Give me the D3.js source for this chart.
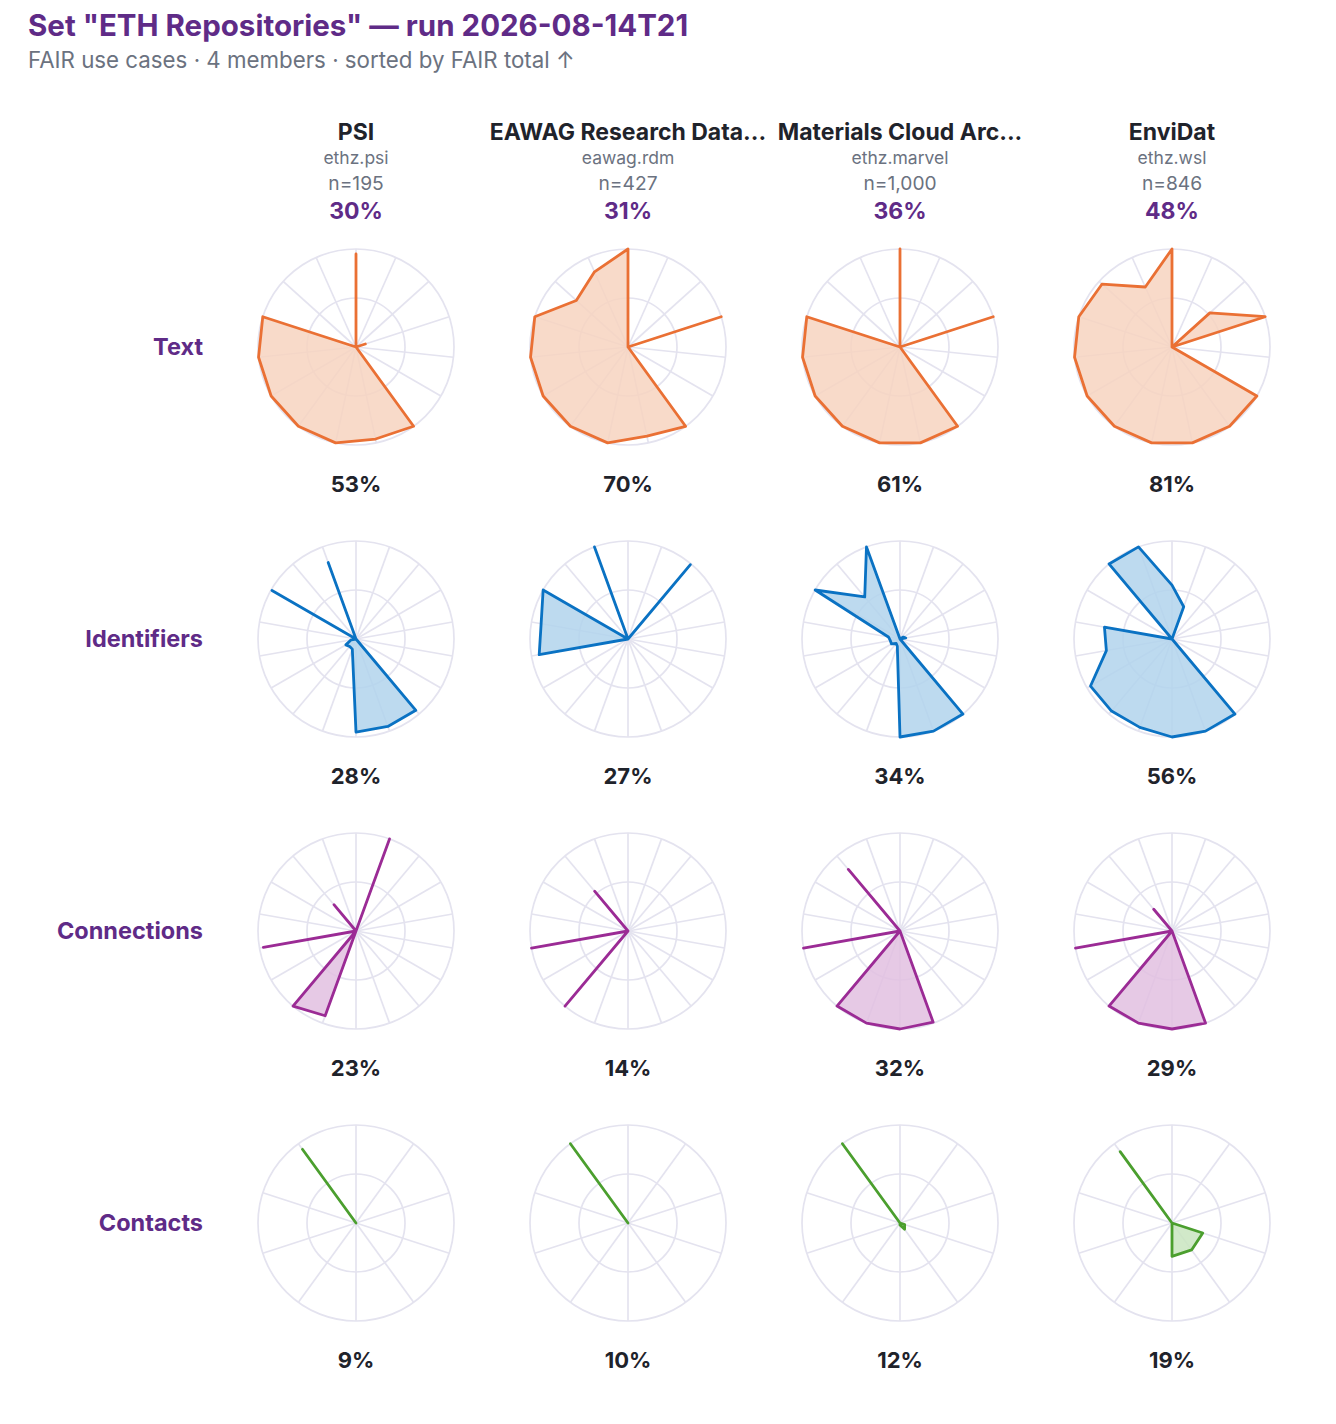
<!DOCTYPE html>
<html>
<head>
<meta charset="utf-8">
<script src="https://cdn.jsdelivr.net/npm/d3@7"></script>
<style>
  html, body { margin: 0; padding: 0; background: #ffffff; }
  svg { display: block; font-family: Inter, "Noto Sans", "DejaVu Sans", sans-serif; }
</style>
</head>
<body>
<div id="chart"></div>
<script>
// ---------- data ----------
const titleText = 'Set "ETH Repositories" — run 2026-08-14T21';
const subtitleText = "FAIR use cases · 4 members · sorted by FAIR total ↑";

const categories = ["Text", "Identifiers", "Connections", "Contacts"];
const members = ["PSI", "EAWAG Research Data...", "Materials Cloud Arc...", "EnviDat"];
const memberIds = ["ethz.psi", "eawag.rdm", "ethz.marvel", "ethz.wsl"];
const memberCounts = [195, 427, 1000, 846];
const memberTotals = [30, 31, 36, 48];

// score per category (rows) per member (columns), percent
const textScores = [53, 70, 61, 81];
const identifierScores = [28, 27, 34, 56];
const connectionScores = [23, 14, 32, 29];
const contactScores = [9, 10, 12, 19];

// per-use-case fractions (spokes clockwise from top), one array per member
const textValues = [
  [0.95, 0, 0, 0.1, 0, 0, 1, 0.96, 1, 1, 1, 1, 1, 0, 0],
  [1, 0, 0, 1, 0, 0, 1, 0.93, 1, 1, 1, 1, 1, 0.71, 0.84],
  [1, 0, 0, 1, 0, 0, 1, 1, 1, 1, 1, 1, 1, 0, 0],
  [1, 0, 0.52, 1, 0, 1, 1, 1, 1, 1, 1, 1, 1, 0.96, 0.67]
];
const identifierValues = [
  [0, 0, 0, 0, 0, 0, 0, 0.95, 0.95, 0.95, 0.11, 0.1, 0.12, 0.05, 0, 0.99, 0, 0.83],
  [0, 0, 0.99, 0, 0, 0, 0, 0, 0, 0, 0, 0, 0, 0.92, 0.9, 1, 0, 1],
  [0, 0, 0, 0.04, 0.06, 0, 0, 1, 1, 1, 0.08, 0.06, 0.1, 0.1, 0.12, 1, 0.56, 1],
  [0.55, 0.35, 0, 0, 0, 0, 0, 1, 1, 1, 0.96, 0.96, 0.96, 0.68, 0.7, 0, 1, 1]
];
const connectionValues = [
  [0, 1, 0, 0, 0, 0, 0, 0, 0, 0, 0.92, 1, 0, 0.96, 0, 0, 0.35, 0],
  [0, 0, 0, 0, 0, 0, 0, 0, 0, 0, 0, 1, 0, 1, 0, 0, 0.53, 0],
  [0, 0, 0, 0, 0, 0, 0, 0, 0.99, 1, 1, 1, 0, 1, 0, 0, 0.82, 0],
  [0, 0, 0, 0, 0, 0, 0, 0, 1, 1, 1, 1, 0, 1, 0, 0, 0.29, 0]
];
const contactValues = [
  [0, 0, 0, 0, 0, 0, 0, 0, 0, 0.93],
  [0, 0, 0, 0, 0, 0, 0, 0, 0, 1],
  [0, 0, 0, 0.05, 0.08, 0.02, 0, 0, 0, 1],
  [0, 0, 0, 0.33, 0.34, 0.34, 0, 0, 0, 0.9]
];

const categoryValues = [textValues, identifierValues, connectionValues, contactValues];
const categoryScores = [textScores, identifierScores, connectionScores, contactScores];
const categoryStroke = ["#ea7034", "#0a72c3", "#9b2b95", "#4b9f2e"];
const categoryFill = ["#f7d4c0", "#b1d3ec", "#e2c0e0", "#c9e5c0"];

// ---------- layout ----------
const W = 1336, H = 1424;
const colX = d3.scalePoint().domain(d3.range(members.length)).range([356, 1172]);
const rowY = d3.scalePoint().domain(d3.range(categories.length)).range([347, 1223]);
const rScale = d3.scaleLinear().domain([0, 1]).range([0, 98]);

const purple = "#5f2b87";
const dark = "#1f232b";
const gray = "#6b7280";
const gridColor = "#e4e3ef";

const svg = d3.select("#chart").append("svg")
  .attr("width", W).attr("height", H).attr("viewBox", [0, 0, W, H]);

svg.append("text")
  .attr("x", 28).attr("y", 36)
  .attr("fill", purple).attr("font-size", 29.5).attr("font-weight", 700)
  .text(titleText);

svg.append("text")
  .attr("x", 28).attr("y", 68)
  .attr("fill", gray).attr("font-size", 22.3)
  .text(subtitleText);

// column headers
const header = svg.append("g").selectAll("g").data(members).join("g")
  .attr("transform", (d, i) => `translate(${colX(i)},0)`)
  .attr("text-anchor", "middle");
header.append("text").attr("y", 139.5).attr("font-size", 23).attr("font-weight", 700)
  .attr("fill", dark).text(d => d);
header.append("text").attr("y", 164).attr("font-size", 17.5)
  .attr("fill", gray).text((d, i) => memberIds[i]);
header.append("text").attr("y", 190).attr("font-size", 19.2)
  .attr("fill", gray).text((d, i) => "n=" + d3.format(",")(memberCounts[i]));
header.append("text").attr("y", 218.5).attr("font-size", 23).attr("font-weight", 700)
  .attr("fill", purple).text((d, i) => memberTotals[i] + "%");

// row labels
svg.append("g").selectAll("text").data(categories).join("text")
  .attr("x", 203).attr("y", (d, i) => rowY(i) + 7.8)
  .attr("text-anchor", "end").attr("font-size", 23.5).attr("font-weight", 700)
  .attr("fill", purple).text(d => d);

// radar cells
categories.forEach((cat, ci) => {
  const vals = categoryValues[ci];
  const nSpokes = vals[0].length;
  const angle = d3.scaleLinear().domain([0, nSpokes]).range([0, 2 * Math.PI]);
  members.forEach((m, mi) => {
    const g = svg.append("g")
      .attr("transform", `translate(${colX(mi)},${rowY(ci)})`);
    // grid circles
    g.selectAll("circle.grid").data([0.5, 1]).join("circle")
      .attr("class", "grid")
      .attr("r", d => rScale(d))
      .attr("fill", "none").attr("stroke", gridColor).attr("stroke-width", 1.7);
    // spokes
    g.selectAll("line.spoke").data(d3.range(nSpokes)).join("line")
      .attr("class", "spoke")
      .attr("x1", 0).attr("y1", 0)
      .attr("x2", i => rScale(1) * Math.sin(angle(i)))
      .attr("y2", i => -rScale(1) * Math.cos(angle(i)))
      .attr("stroke", gridColor).attr("stroke-width", 1.7);
    // shape
    const line = d3.lineRadial()
      .angle((d, i) => angle(i))
      .radius(d => rScale(d))
      .curve(d3.curveLinearClosed);
    g.append("path")
      .attr("d", line(vals[mi]))
      .attr("fill", categoryFill[ci]).attr("fill-opacity", 0.85)
      .attr("stroke", categoryStroke[ci]).attr("stroke-width", 2.8)
      .attr("stroke-linejoin", "round").attr("stroke-linecap", "round");
    // score label
    g.append("text")
      .attr("y", 145).attr("text-anchor", "middle")
      .attr("font-size", 22).attr("font-weight", 700).attr("fill", dark)
      .text(categoryScores[ci][mi] + "%");
  });
});
</script>
</body>
</html>
